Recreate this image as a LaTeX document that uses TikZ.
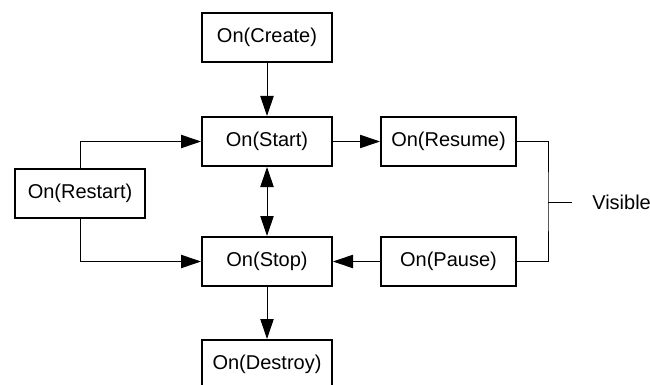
\documentclass[tikz,border=0pt]{standalone}
\usepackage{fontspec}
\setmainfont{Liberation Sans}
\usetikzlibrary{arrows.meta}
\tikzset{
  label-font/.style={font=\fontsize{15}{17}\selectfont},
  state/.style={
    draw=black,
    line width=1.5pt,
    minimum width=97.5pt,
    minimum height=36.75pt,
    inner sep=0pt,
    label-font
  },
  state-wide/.style={state, minimum width=101.25pt},
  plain/.style={line width=0.75pt},
  link/.style={plain, -{Triangle[length=15pt, width=10pt]}},
  link-both/.style={plain, {Triangle[length=15pt, width=10pt]}-{Triangle[length=15pt, width=10pt]}}
}

\begin{document}
\begin{tikzpicture}[x=0.75pt, y=-0.75pt]
  \useasboundingbox (0,0) rectangle (650,385);
  % Lifecycle states
  \node[state] (create) at (267,37.5) {On(Create)};
  \node[state] (start) at (267,141.5) {On(Start)};
  \node[state] (stop) at (267,261.5) {On(Stop)};
  \node[state] (destroy) at (267,364.5) {On(Destroy)};
  \node[state] (restart) at (80,193) {On(Restart)};
  \node[state-wide] (resume) at (448.5,141.5) {On(Resume)};
  \node[state-wide] (pause) at (448.5,261.5) {On(Pause)};
  \node[label-font, anchor=west, inner sep=0pt] (visible) at (592,202) {Visible};
  % Transitions
  \draw[link] (create) -- (start);
  \draw[link-both] (start) -- (stop);
  \draw[link] (stop) -- (destroy);
  \draw[link] (start) -- (resume);
  \draw[link] (pause) -- (stop);
  \draw[link] (restart.north) |- (start.west);
  \draw[link] (restart.south) |- (stop.west);
  % Visible bracket
  \coordinate (brace) at (548,202);
  \coordinate (brace-end) at (572,202);
  \draw[plain] (resume.east) -| (brace) |- (pause.east);
  \draw[plain] (brace) -- (brace-end);
\end{tikzpicture}
\end{document}
